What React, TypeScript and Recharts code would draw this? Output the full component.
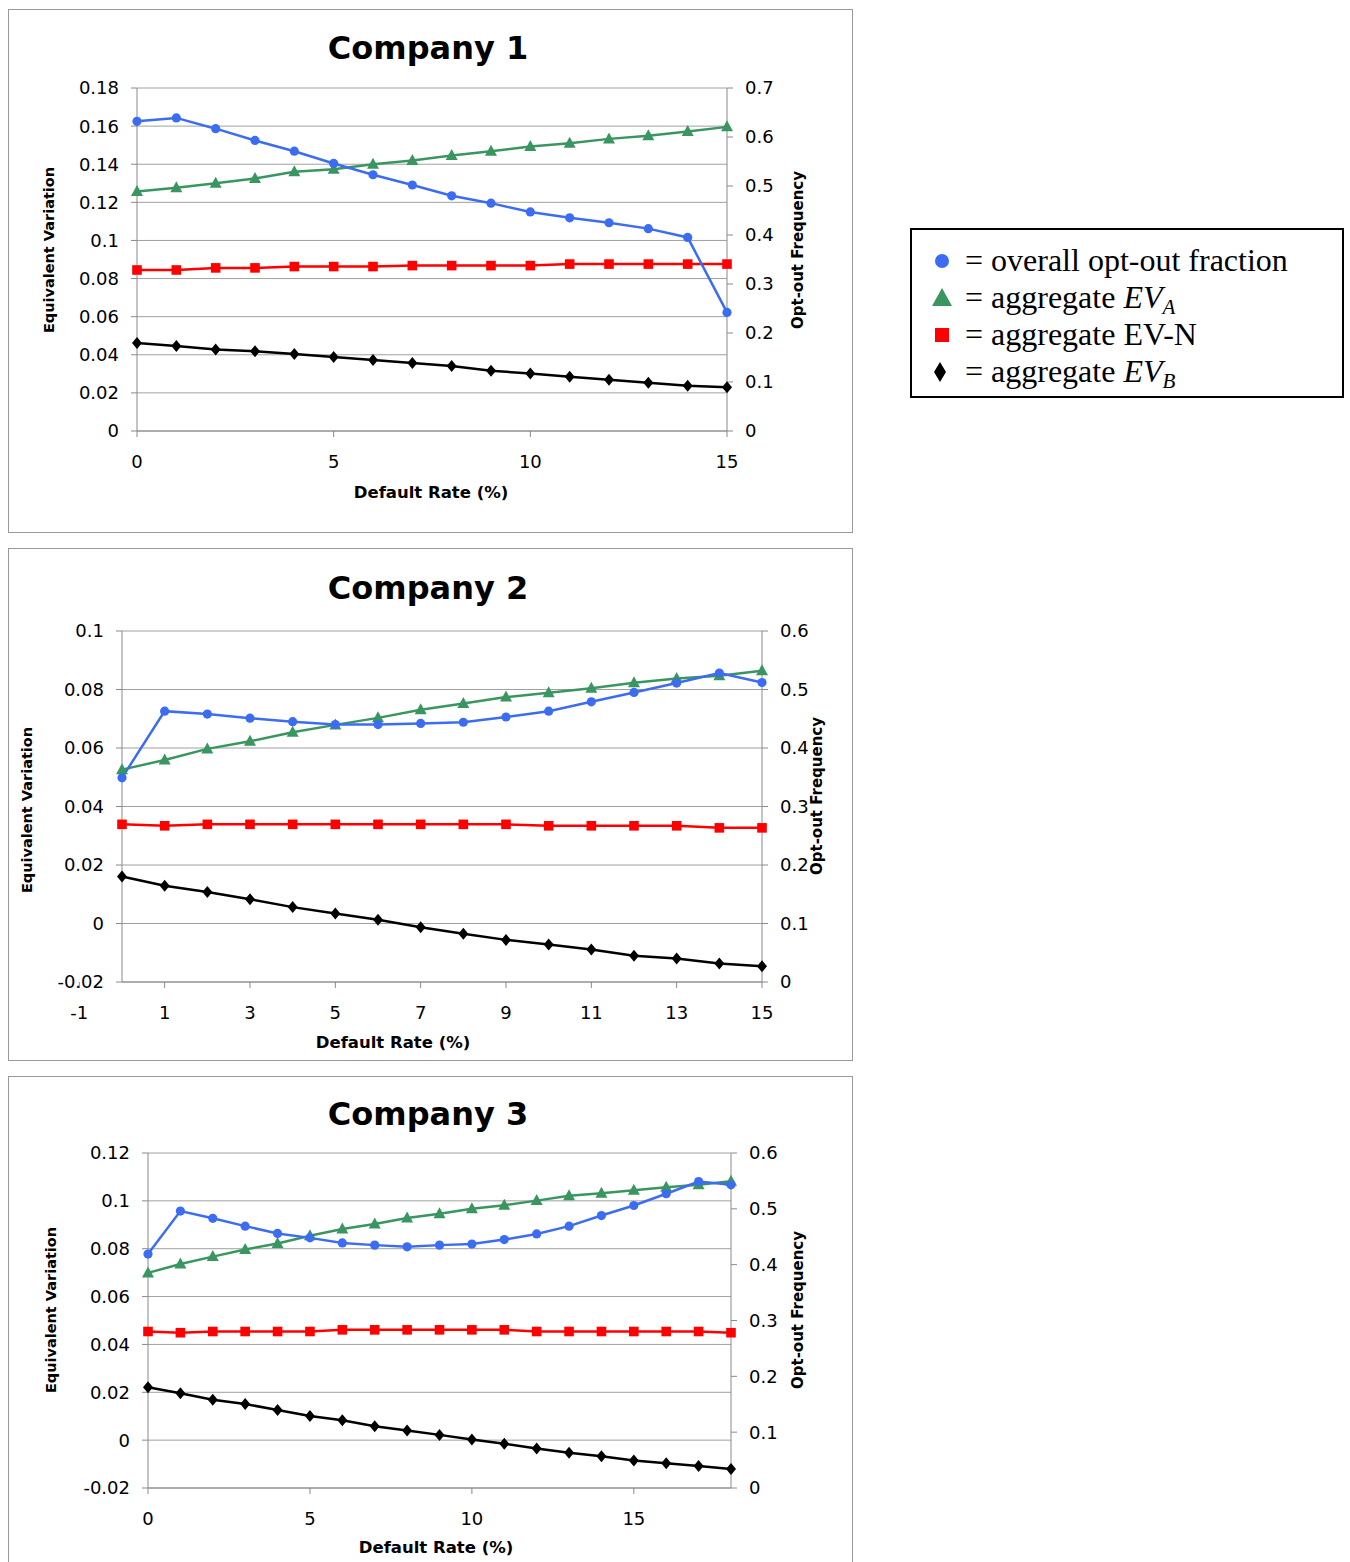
import React from 'react';
import { LineChart, Line, XAxis, YAxis, CartesianGrid } from 'recharts';

// Company 1: default rate 0..15
const rates1 = [0, 1, 2, 3, 4, 5, 6, 7, 8, 9, 10, 11, 12, 13, 14, 15];
const optOut1 = [0.632, 0.639, 0.617, 0.593, 0.571, 0.546, 0.523, 0.502, 0.48, 0.465, 0.447, 0.435, 0.425, 0.413, 0.395, 0.242];
const evA1 = [0.1257, 0.1276, 0.13, 0.1325, 0.136, 0.1374, 0.14, 0.142, 0.1446, 0.1468, 0.1493, 0.151, 0.1533, 0.1549, 0.1572, 0.1596];
const evN1 = [0.0845, 0.0845, 0.0856, 0.0856, 0.0863, 0.0863, 0.0863, 0.0868, 0.0868, 0.0868, 0.0868, 0.0876, 0.0876, 0.0876, 0.0876, 0.0876];
const evB1 = [0.0462, 0.0446, 0.0428, 0.0419, 0.0404, 0.0388, 0.0372, 0.0357, 0.0341, 0.0316, 0.0302, 0.0285, 0.0269, 0.0253, 0.0238, 0.0229];

// Company 2: default rate 0..15
const rates2 = [0, 1, 2, 3, 4, 5, 6, 7, 8, 9, 10, 11, 12, 13, 14, 15];
const optOut2 = [0.349, 0.463, 0.458, 0.451, 0.445, 0.44, 0.44, 0.442, 0.444, 0.453, 0.463, 0.479, 0.495, 0.511, 0.528, 0.512];
const evA2 = [0.0526, 0.0559, 0.0597, 0.0623, 0.0654, 0.0679, 0.0703, 0.0731, 0.0752, 0.0774, 0.0789, 0.0804, 0.0823, 0.0838, 0.0847, 0.0864];
const evN2 = [0.0339, 0.0334, 0.0339, 0.0339, 0.0339, 0.0339, 0.0339, 0.0339, 0.0339, 0.0339, 0.0334, 0.0334, 0.0334, 0.0334, 0.0327, 0.0327];
const evB2 = [0.0161, 0.0129, 0.0108, 0.0083, 0.0056, 0.0034, 0.0013, -0.0013, -0.0035, -0.0056, -0.0072, -0.0089, -0.011, -0.012, -0.0137, -0.0146];

// Company 3: default rate 0..18
const rates3 = [0, 1, 2, 3, 4, 5, 6, 7, 8, 9, 10, 11, 12, 13, 14, 15, 16, 17, 18];
const optOut3 = [0.419, 0.496, 0.483, 0.469, 0.456, 0.448, 0.439, 0.435, 0.432, 0.435, 0.437, 0.445, 0.455, 0.469, 0.488, 0.506, 0.527, 0.549, 0.543];
const evA3 = [0.0699, 0.0736, 0.0767, 0.0797, 0.0822, 0.0854, 0.0882, 0.0903, 0.0928, 0.0946, 0.0967, 0.0982, 0.1001, 0.1021, 0.1032, 0.1044, 0.1057, 0.1067, 0.1082];
const evN3 = [0.0454, 0.0449, 0.0454, 0.0454, 0.0454, 0.0454, 0.0461, 0.0461, 0.0461, 0.0461, 0.0461, 0.0461, 0.0454, 0.0454, 0.0454, 0.0454, 0.0454, 0.0454, 0.0449];
const evB3 = [0.0221, 0.0196, 0.0169, 0.0151, 0.0126, 0.0101, 0.0083, 0.0058, 0.004, 0.0022, 0.0003, -0.0015, -0.0035, -0.0053, -0.0067, -0.0085, -0.0097, -0.0108, -0.0121];

// axis ticks
const xTicks1 = [0, 5, 10, 15];
const xTicks2 = [-1, 1, 3, 5, 7, 9, 11, 13, 15];
const xTicks3 = [0, 5, 10, 15];
const leftTicks1 = [0, 0.02, 0.04, 0.06, 0.08, 0.1, 0.12, 0.14, 0.16, 0.18];
const rightTicks1 = [0, 0.1, 0.2, 0.3, 0.4, 0.5, 0.6, 0.7];
const leftTicks2 = [-0.02, 0, 0.02, 0.04, 0.06, 0.08, 0.1];
const rightTicks2 = [0, 0.1, 0.2, 0.3, 0.4, 0.5, 0.6];
const leftTicks3 = [-0.02, 0, 0.02, 0.04, 0.06, 0.08, 0.1, 0.12];
const rightTicks3 = [0, 0.1, 0.2, 0.3, 0.4, 0.5, 0.6];

const BLUE = '#3c6cf2';
const GREEN = '#3a9660';
const RED = '#ff0000';
const BLACK = '#000000';
const AXIS = '#8a8a8a';
const GRID = '#a0a0a0';

const tickFont = { fill: '#000', fontSize: 18, fontFamily: 'DejaVu Sans, Verdana, sans-serif' };
const fmt = (v: number) => String(Number(v.toFixed(3)));

function buildRows(rates: number[], opt: number[], a: number[], n: number[], b: number[]) {
  return rates.map((r, i) => ({ rate: r, optOut: opt[i], evA: a[i], evN: n[i], evB: b[i] }));
}

function makeDot(shape: string, color: string) {
  return (p: any) => {
    const { cx, cy, index } = p;
    if (cx == null || cy == null) return <g key={index} />;
    if (shape === 'circle') return <circle key={index} cx={cx} cy={cy} r={4.6} fill={color} />;
    if (shape === 'triangle')
      return <path key={index} d={`M${cx},${cy - 6.5}L${cx + 6},${cy + 4.5}L${cx - 6},${cy + 4.5}Z`} fill={color} />;
    if (shape === 'square') return <rect key={index} x={cx - 4.8} y={cy - 4.8} width={9.6} height={9.6} fill={color} />;
    return <path key={index} d={`M${cx},${cy - 6}L${cx + 5},${cy}L${cx},${cy + 6}L${cx - 5},${cy}Z`} fill={color} />;
  };
}

interface PanelProps {
  title: string;
  top: number;
  boxHeight: number;
  chartHeight: number;
  leftW: number;
  rightW: number;
  marginTop: number;
  marginBottom: number;
  rows: any[];
  xDomain: [number, number];
  xTicks: number[];
  leftDomain: [number, number];
  leftTicks: number[];
  rightDomain: [number, number];
  rightTicks: number[];
  titleY: number;
  yLeft: [number, number];
  yRight: [number, number];
  xLabel: [number, number];
  openBottom?: boolean;
}

function Text({ x, y, rotate, style, children }: any) {
  return (
    <div
      style={{
        position: 'absolute',
        left: x,
        top: y,
        transform: `translate(-50%, -50%)${rotate ? ' rotate(-90deg)' : ''}`,
        whiteSpace: 'nowrap',
        lineHeight: 1,
        ...style,
      }}
    >
      {children}
    </div>
  );
}

const axisTitle = { fontFamily: 'DejaVu Sans, Verdana, sans-serif', fontWeight: 700, fontSize: 14.5, color: '#000' };

function Panel(p: PanelProps) {
  return (
    <>
      <div
        style={{
          position: 'absolute',
          left: 8,
          top: p.top,
          width: 843,
          height: p.boxHeight,
          border: '1px solid #999',
          borderBottom: p.openBottom ? 'none' : '1px solid #999',
          background: '#fff',
        }}
      />
      <div style={{ position: 'absolute', left: 8, top: p.top }}>
        <LineChart
          width={844}
          height={p.chartHeight}
          data={p.rows}
          margin={{ top: p.marginTop, right: 0, bottom: p.marginBottom, left: 0 }}
        >
          <CartesianGrid yAxisId="left" vertical={false} stroke={GRID} strokeWidth={1} />
          <XAxis
            dataKey="rate"
            type="number"
            domain={p.xDomain}
            ticks={p.xTicks}
            interval={0}
            height={40}
            tickSize={6}
            tickMargin={18}
            axisLine={{ stroke: AXIS }}
            tickLine={{ stroke: AXIS }}
            tick={tickFont}
          />
          <YAxis
            yAxisId="left"
            orientation="left"
            width={p.leftW}
            domain={p.leftDomain}
            ticks={p.leftTicks}
            interval={0}
            tickSize={6}
            tickMargin={12}
            tickFormatter={fmt}
            axisLine={{ stroke: AXIS }}
            tickLine={{ stroke: AXIS }}
            tick={tickFont}
          />
          <YAxis
            yAxisId="right"
            orientation="right"
            width={p.rightW}
            domain={p.rightDomain}
            ticks={p.rightTicks}
            interval={0}
            tickSize={6}
            tickMargin={12}
            tickFormatter={fmt}
            axisLine={{ stroke: AXIS }}
            tickLine={{ stroke: AXIS }}
            tick={tickFont}
          />
          <Line yAxisId="left" type="linear" dataKey="evB" stroke={BLACK} strokeWidth={2.5} dot={makeDot('diamond', BLACK)} activeDot={false} isAnimationActive={false} />
          <Line yAxisId="left" type="linear" dataKey="evN" stroke={RED} strokeWidth={2.5} dot={makeDot('square', RED)} activeDot={false} isAnimationActive={false} />
          <Line yAxisId="left" type="linear" dataKey="evA" stroke={GREEN} strokeWidth={2.5} dot={makeDot('triangle', GREEN)} activeDot={false} isAnimationActive={false} />
          <Line yAxisId="right" type="linear" dataKey="optOut" stroke={BLUE} strokeWidth={2.5} dot={makeDot('circle', BLUE)} activeDot={false} isAnimationActive={false} />
        </LineChart>
      </div>
      <Text x={428} y={p.titleY} style={{ fontFamily: 'DejaVu Sans, Verdana, sans-serif', fontWeight: 700, fontSize: 32 }}>
        {p.title}
      </Text>
      <Text x={p.yLeft[0]} y={p.yLeft[1]} rotate style={axisTitle}>
        Equivalent Variation
      </Text>
      <Text x={p.yRight[0]} y={p.yRight[1]} rotate style={{ ...axisTitle, fontSize: 15 }}>
        Opt-out Frequency
      </Text>
      <Text x={p.xLabel[0]} y={p.xLabel[1]} style={{ ...axisTitle, fontSize: 16.5 }}>
        Default Rate (%)
      </Text>
    </>
  );
}

const serif = { fontFamily: '"Liberation Serif", "Times New Roman", serif', fontSize: 32, color: '#000' };

function LegendBox() {
  const row = (top: number, marker: React.ReactNode, label: React.ReactNode) => (
    <div style={{ position: 'absolute', left: 0, top, height: 36, width: 420 }}>
      <svg width={40} height={36} style={{ position: 'absolute', left: 12, top: 0 }}>
        {marker}
      </svg>
      <div style={{ position: 'absolute', left: 53, top: 0, lineHeight: '34px', whiteSpace: 'nowrap', ...serif }}>{label}</div>
    </div>
  );
  const sub = (s: string) => <sub style={{ fontSize: 21, verticalAlign: '-6px' }}>{s}</sub>;
  return (
    <div
      style={{
        position: 'absolute',
        left: 910,
        top: 228,
        width: 430,
        height: 166,
        border: '2px solid #000',
        background: '#fff',
      }}
    >
      {row(13, <circle cx={18} cy={18} r={7} fill={BLUE} />, <>= overall opt-out fraction</>)}
      {row(50, <path d="M18,8L28,26L8,26Z" fill={GREEN} />, <>= aggregate <i>EV{sub('A')}</i></>)}
      {row(87, <rect x={11} y={11} width={14} height={14} fill={RED} />, <>= aggregate EV-N</>)}
      {row(124, <path d="M16,8L22,18L16,28L10,18Z" fill={BLACK} />, <>= aggregate <i>EV{sub('B')}</i></>)}
    </div>
  );
}

export default function App() {
  const rows1 = buildRows(rates1, optOut1, evA1, evN1, evB1);
  const rows2 = buildRows(rates2, optOut2, evA2, evN2, evB2);
  const rows3 = buildRows(rates3, optOut3, evA3, evN3, evB3);
  return (
    <div style={{ position: 'absolute', left: 0, top: 0, width: 1350, height: 1562, overflow: 'hidden', background: '#fff' }}>
      <Panel
        title="Company 1"
        top={9}
        boxHeight={522}
        chartHeight={523}
        leftW={129}
        rightW={125}
        marginTop={79}
        marginBottom={61}
        rows={rows1}
        xDomain={[0, 15]}
        xTicks={xTicks1}
        leftDomain={[0, 0.18]}
        leftTicks={leftTicks1}
        rightDomain={[0, 0.7]}
        rightTicks={rightTicks1}
        titleY={48}
        yLeft={[49, 250]}
        yRight={[798, 250]}
        xLabel={[431, 493]}
      />
      <Panel
        title="Company 2"
        top={548}
        boxHeight={511}
        chartHeight={512}
        leftW={114}
        rightW={90}
        marginTop={83}
        marginBottom={38}
        rows={rows2}
        xDomain={[0, 15]}
        xTicks={xTicks2}
        leftDomain={[-0.02, 0.1]}
        leftTicks={leftTicks2}
        rightDomain={[0, 0.6]}
        rightTicks={rightTicks2}
        titleY={588}
        yLeft={[27, 810]}
        yRight={[817, 796]}
        xLabel={[393, 1043]}
      />
      <Panel
        title="Company 3"
        top={1076}
        boxHeight={500}
        chartHeight={486}
        leftW={140}
        rightW={121}
        marginTop={77}
        marginBottom={34}
        rows={rows3}
        xDomain={[0, 18]}
        xTicks={xTicks3}
        leftDomain={[-0.02, 0.12]}
        leftTicks={leftTicks3}
        rightDomain={[0, 0.6]}
        rightTicks={rightTicks3}
        titleY={1114}
        yLeft={[51, 1310]}
        yRight={[798, 1310]}
        xLabel={[436, 1548]}
        openBottom
      />
      <LegendBox />
    </div>
  );
}
